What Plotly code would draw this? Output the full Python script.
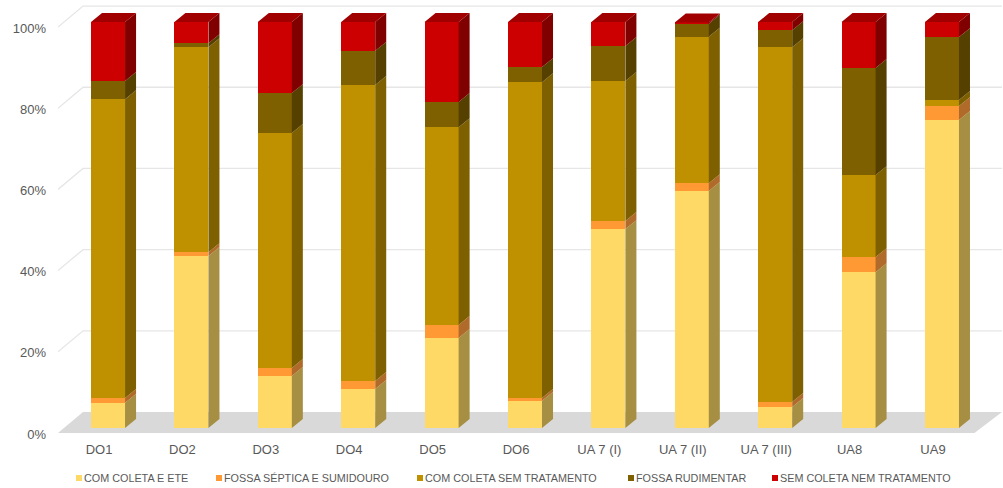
import plotly.graph_objects as go

categories = ["DO1", "DO2", "DO3", "DO4", "DO5", "DO6", "UA 7 (I)", "UA 7 (II)", "UA 7 (III)", "UA8", "UA9"]
com_coleta_ete = [6.2, 42.4, 12.8, 9.6, 22.2, 6.7, 49.0, 58.4, 5.2, 38.4, 75.9]
fossa_septica = [1.2, 0.9, 2.0, 2.0, 3.2, 0.7, 2.0, 1.9, 1.2, 3.7, 3.4]
com_coleta_sem = [73.6, 50.5, 57.9, 72.9, 48.7, 77.8, 34.5, 36.1, 87.4, 20.2, 1.5]
fossa_rudimentar = [4.5, 1.0, 9.8, 8.4, 6.2, 3.7, 8.6, 3.2, 4.2, 26.4, 15.5]
sem_coleta = [14.5, 5.2, 17.5, 7.1, 19.7, 11.1, 5.9, 0.3, 2.0, 11.3, 3.7]
y_ticks = [0, 20, 40, 60, 80, 100]
y_tick_labels = ["0%", "20%", "40%", "60%", "80%", "100%"]

names = ["COM COLETA E ETE", "FOSSA SÉPTICA E SUMIDOURO", "COM COLETA SEM TRATAMENTO", "FOSSA RUDIMENTAR", "SEM COLETA NEM TRATAMENTO"]
series = [com_coleta_ete, fossa_septica, com_coleta_sem, fossa_rudimentar, sem_coleta]
front_colors = ["#FFD966", "#FF9933", "#BF9000", "#7F6000", "#CC0000"]
side_colors = ["#A68F43", "#B06A2A", "#7F6000", "#554000", "#800000"]
top_color = "#A00000"
grid_color = "#E6E6E6"
floor_color = "#D9D9D9"
text_color = "#595959"

W, H = 1003, 488
ML, MR, MT, MB = 58, 1, 5, 53
positions = list(range(len(categories)))
bar_w = 0.408
dx, dy = 0.132, 2.2
x_lo, x_hi = -0.6, 10.72
y_lo, y_hi = -1.72, 104.2

fig = go.Figure()
base = [0.0] * len(categories)
for name, vals, fc, sc in zip(names, series, front_colors, side_colors):
    fig.add_bar(x=positions, y=vals, base=base, width=bar_w, marker=dict(color=fc, line=dict(width=0)),
                name=name, showlegend=False, hoverinfo="x+y+name")
    xs, ys = [], []
    for p, b, v in zip(positions, base, vals):
        r = p + bar_w / 2
        xs += [r, r + dx, r + dx, r, r, None]
        ys += [b, b + dy, b + v + dy, b + v, b, None]
    fig.add_scatter(x=xs, y=ys, mode="lines", fill="toself", fillcolor=sc, line=dict(width=0),
                    showlegend=False, hoverinfo="skip")
    base = [b + v for b, v in zip(base, vals)]

xs, ys = [], []
for p, b in zip(positions, base):
    l, r = p - bar_w / 2, p + bar_w / 2
    xs += [l, l + dx, r + dx, r, l, None]
    ys += [b, b + dy, b + dy, b, b, None]
fig.add_scatter(x=xs, y=ys, mode="lines", fill="toself", fillcolor=top_color, line=dict(width=0),
                showlegend=False, hoverinfo="skip")

# depth of the chart's floor and back wall, in axis units
front_drop, back_rise, wall_dx, floor_right = -1.23, 3.94, 0.30, 10.39
shapes = [dict(type="path", layer="below", xref="x", yref="y", line=dict(width=0), fillcolor=floor_color,
               path=f"M{x_lo},{front_drop} L{x_lo + wall_dx},{back_rise} L{x_hi},{back_rise} L{floor_right},{front_drop} Z")]
for v in y_ticks[1:]:
    shapes.append(dict(type="path", layer="below", xref="x", yref="y", line=dict(color=grid_color, width=1.3),
                       path=f"M{x_lo},{v + front_drop} L{x_lo + wall_dx},{v + back_rise} L{x_hi},{v + back_rise}"))

# legend row: swatch and text placed to match the reference spacing
legend_text_px = [84, 224, 425, 636, 780]
legend_y_px = 478
annotations = []
pw, ph = W - ML - MR, H - MT - MB
def px_x(px): return (px - ML) / pw
def px_y(px): return (H - MB - px) / ph
for name, fc, tx in zip(names, front_colors, legend_text_px):
    annotations.append(dict(text=name, xref="paper", yref="paper", x=px_x(tx), y=px_y(legend_y_px),
                            xanchor="left", yanchor="middle", showarrow=False,
                            font=dict(size=10.8, color=text_color), borderpad=0, borderwidth=0))
    shapes.append(dict(type="rect", xref="paper", yref="paper", layer="above", line=dict(width=0), fillcolor=fc,
                       x0=px_x(tx - 8), x1=px_x(tx - 2), y0=px_y(legend_y_px + 3), y1=px_y(legend_y_px - 3)))

fig.update_layout(
    width=W, height=H, autosize=False, barmode="overlay", bargap=0, showlegend=False,
    margin=dict(l=ML, r=MR, t=MT, b=MB, pad=0),
    paper_bgcolor="white", plot_bgcolor="white", shapes=shapes, annotations=annotations,
    font=dict(family="Liberation Sans, Arial, sans-serif", color=text_color, size=13),
    xaxis=dict(range=[x_lo, x_hi], tickmode="array", tickvals=positions, ticktext=categories, automargin=False,
               showgrid=False, zeroline=False, showline=False, ticks="", ticklabelshift=-9, ticklabelstandoff=5),
    yaxis=dict(range=[y_lo, y_hi], tickmode="array", tickvals=y_ticks, ticktext=y_tick_labels, automargin=False,
               showgrid=False, zeroline=False, showline=False, ticks="", ticklabelshift=6, ticklabelstandoff=11),
)

fig.write_html("out.html", post_script="document.body.style.margin='0';", config={"displayModeBar": False})
